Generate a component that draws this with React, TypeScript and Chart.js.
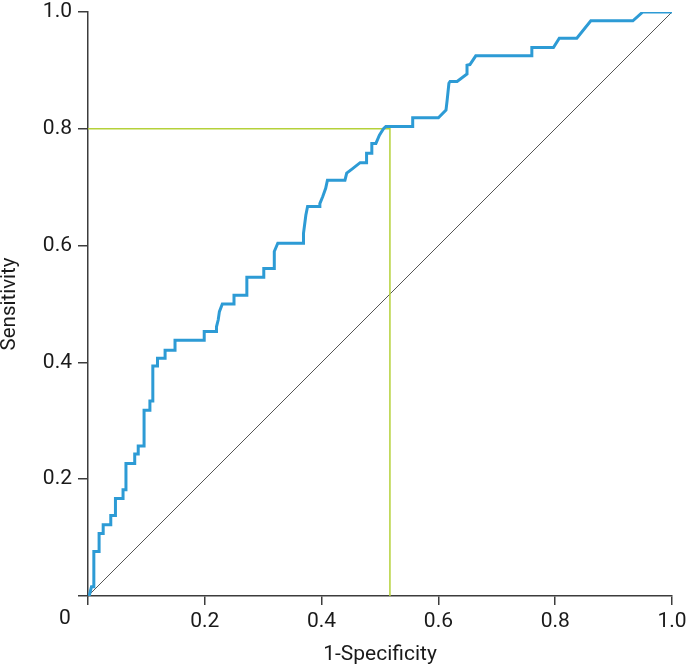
import React, { useEffect, useRef } from "react";
import { Chart, registerables } from "chart.js";

Chart.register(...registerables);

// ROC curve vertices (1-Specificity, Sensitivity)
const rocFpr = [
  0.002, 0.006, 0.010, 0.010, 0.019, 0.019, 0.026, 0.026, 0.039, 0.039,
  0.047, 0.047, 0.060, 0.060, 0.065, 0.065, 0.080, 0.080, 0.086, 0.086,
  0.096, 0.096, 0.106, 0.106, 0.111, 0.111, 0.119, 0.119, 0.132, 0.132,
  0.149, 0.149, 0.199, 0.199, 0.220, 0.220, 0.223, 0.225, 0.230, 0.250,
  0.250, 0.272, 0.272, 0.301, 0.301, 0.319, 0.319, 0.325, 0.369, 0.369,
  0.373, 0.376, 0.397, 0.397, 0.402, 0.407, 0.410, 0.440, 0.443, 0.452,
  0.466, 0.477, 0.477, 0.486, 0.486, 0.493, 0.499, 0.506, 0.510, 0.556,
  0.556, 0.600, 0.613, 0.615, 0.618, 0.620, 0.632, 0.649, 0.649, 0.654,
  0.664, 0.760, 0.760, 0.797, 0.807, 0.837, 0.861, 0.933, 0.950, 1.000,
];
const rocTpr = [
  0.000, 0.016, 0.016, 0.076, 0.076, 0.107, 0.107, 0.122, 0.122, 0.138,
  0.138, 0.167, 0.167, 0.182, 0.182, 0.227, 0.227, 0.243, 0.243, 0.257,
  0.257, 0.318, 0.318, 0.334, 0.334, 0.394, 0.394, 0.407, 0.407, 0.421,
  0.421, 0.438, 0.438, 0.453, 0.453, 0.461, 0.473, 0.487, 0.500, 0.500,
  0.515, 0.515, 0.546, 0.546, 0.561, 0.561, 0.590, 0.604, 0.604, 0.621,
  0.652, 0.667, 0.667, 0.672, 0.684, 0.698, 0.712, 0.712, 0.724, 0.731,
  0.742, 0.742, 0.758, 0.758, 0.775, 0.775, 0.789, 0.800, 0.804, 0.804,
  0.819, 0.819, 0.832, 0.849, 0.878, 0.881, 0.881, 0.894, 0.909, 0.910,
  0.925, 0.925, 0.939, 0.939, 0.955, 0.955, 0.985, 0.985, 1.000, 1.000,
];

// Reference diagonal
const diagX = [0, 1];
const diagY = [0, 1];

// Cut-off guide lines
const cutoffX = [0, 0.517, 0.517];
const cutoffY = [0.8, 0.8, 0];

const tickValues = [0, 0.2, 0.4, 0.6, 0.8, 1.0];
const xTitle = "1-Specificity";
const yTitle = "Sensitivity";
const originLabel = "0";

const FONT = "Roboto, 'Liberation Sans', Arial, sans-serif";
const TEXT = "#1a1a1a";
const AXIS = "#3c3c3c";

const toPts = (xs: number[], ys: number[]) => xs.map((x, i) => ({ x, y: ys[i] }));

export default function App() {
  const ref = useRef<HTMLCanvasElement | null>(null);

  useEffect(() => {
    if (!ref.current) return;
    const originPlugin = {
      id: "originLabel",
      afterDraw(chart: any) {
        const { ctx, chartArea } = chart;
        ctx.save();
        ctx.fillStyle = TEXT;
        ctx.font = `21px ${FONT}`;
        ctx.textAlign = "center";
        ctx.textBaseline = "middle";
        ctx.fillText(originLabel, chartArea.left - 23, chartArea.bottom + 23);
        ctx.restore();
      },
    };
    const chart = new Chart(ref.current, {
      type: "scatter",
      data: {
        datasets: [
          {
            data: toPts(rocFpr, rocTpr),
            showLine: true,
            borderColor: "#2d9bd5",
            borderWidth: 3,
            pointRadius: 0,
            tension: 0,
            order: 0,
          },
          {
            data: toPts(cutoffX, cutoffY),
            showLine: true,
            borderColor: "#b5d13a",
            borderWidth: 1.5,
            pointRadius: 0,
            tension: 0,
            order: 1,
          },
          {
            data: toPts(diagX, diagY),
            showLine: true,
            borderColor: "#555555",
            borderWidth: 1,
            pointRadius: 0,
            tension: 0,
            order: 2,
          },
        ],
      },
      options: {
        animation: false,
        responsive: false,
        layout: { padding: { top: 12, right: 15, bottom: 0, left: 0 } },
        plugins: { legend: { display: false }, tooltip: { enabled: false } },
        scales: {
          x: {
            type: "linear",
            min: 0,
            max: 1,
            afterBuildTicks: (scale: any) => {
              scale.ticks = tickValues.map((v) => ({ value: v }));
            },
            afterFit: (scale: any) => {
              scale.height = 72;
              scale.paddingLeft = 0;
              scale.paddingRight = 0;
            },
            ticks: {
              color: TEXT,
              font: { family: FONT, size: 21 },
              padding: 4,
              maxRotation: 0,
              autoSkip: false,
              callback: (v: any) => (Number(v) === 0 ? "" : Number(v).toFixed(1)),
            },
            grid: {
              display: true,
              drawOnChartArea: false,
              drawTicks: true,
              tickLength: 9,
              color: AXIS,
              lineWidth: 1.5,
            },
            border: { display: true, color: AXIS, width: 1.5 },
            title: {
              display: true,
              text: xTitle,
              color: TEXT,
              font: { family: FONT, size: 21, lineHeight: 1.2 },
              padding: { top: 0, bottom: 1 },
            },
          },
          y: {
            type: "linear",
            min: 0,
            max: 1,
            afterBuildTicks: (scale: any) => {
              scale.ticks = tickValues.map((v) => ({ value: v }));
            },
            afterFit: (scale: any) => {
              scale.width = 88;
              scale.paddingTop = 0;
              scale.paddingBottom = 0;
            },
            ticks: {
              color: TEXT,
              font: { family: FONT, size: 21 },
              padding: 6,
              autoSkip: false,
              callback: (v: any) => (Number(v) === 0 ? "" : Number(v).toFixed(1)),
            },
            grid: {
              display: true,
              drawOnChartArea: false,
              drawTicks: true,
              tickLength: 10,
              color: AXIS,
              lineWidth: 1.5,
            },
            border: { display: true, color: AXIS, width: 1.5 },
            title: {
              display: true,
              text: yTitle,
              color: TEXT,
              font: { family: FONT, size: 20.5, lineHeight: 1 },
              padding: { top: 0, bottom: 0 },
            },
          },
        },
      },
      plugins: [originPlugin],
    });
    return () => chart.destroy();
  }, []);

  return (
    <div style={{ position: "absolute", left: 0, top: 0, width: 687, height: 668 }}>
      <canvas ref={ref} width={687} height={668} style={{ width: 687, height: 668 }} />
    </div>
  );
}
